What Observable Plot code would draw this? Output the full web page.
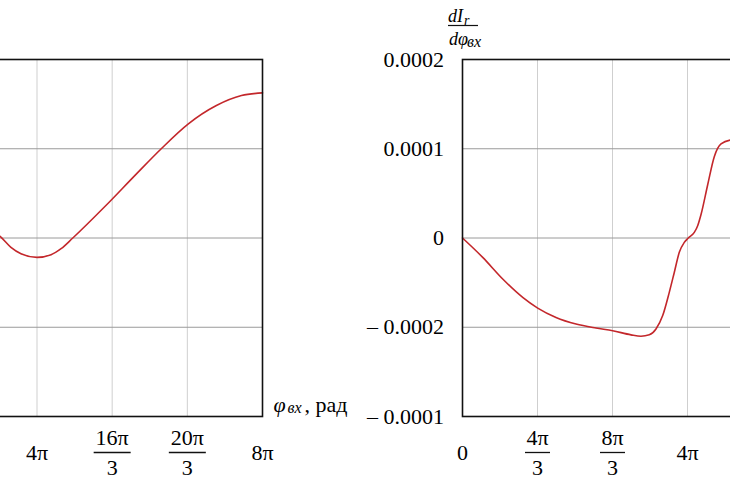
<!DOCTYPE html>
<html><head><meta charset="utf-8">
<script src="https://cdn.jsdelivr.net/npm/d3@7"></script>
<script src="https://cdn.jsdelivr.net/npm/@observablehq/plot@0.6"></script>
<style>
html,body{margin:0;padding:0;background:#fff;}
#wrap{position:relative;width:730px;height:486px;overflow:hidden;background:#fff;}
</style></head><body><div id="wrap"></div>
<script>
// x values are in units of π
const xGridValues = [0, 4/3, 8/3, 4, 16/3, 20/3, 8];
const leftTickValues = [4, 16/3, 20/3, 8];
const leftTickNum = ["4π", "16π", "20π", "8π"];
const leftTickDen = ["", "3", "3", ""];
const rightTickValues = [0, 4/3, 8/3, 4];
const rightTickNum = ["0", "4π", "8π", "4π"];
const rightTickDen = ["", "3", "3", ""];

// left chart (its y axis lies outside the view; grid units)
const leftGridY = [-1, 0, 1];
const leftX = [3.30, 3.36, 3.538, 3.716, 4.0, 4.249, 4.427, 4.635, 5.2, 5.76, 6.204, 6.679, 7.182, 7.627, 8.0];
const leftY = [0.045, 0.01, -0.105, -0.176, -0.217, -0.187, -0.12, 0, 0.35, 0.716, 1.0, 1.276, 1.484, 1.596, 1.626];

// right chart: dI_r / dφ_вх
const rightX = [0, 0.359, 0.715, 1.070, 1.337, 1.662, 2.018, 2.373, 2.670, 2.996, 3.173, 3.321, 3.440, 3.559, 3.676, 3.765, 3.854, 3.943, 4.014, 4.121, 4.181, 4.244, 4.36, 4.476, 4.596, 4.774, 5.0];
const rightY = [0, -0.0000217, -0.0000459, -0.0000665, -0.0000785, -0.000089, -0.0000964, -0.0001009, -0.0001039, -0.0001085, -0.00011, -0.0001085, -0.0001019, -0.0000869, -0.0000609, -0.0000386, -0.0000161, -0.0000049, 0, 0.0000063, 0.0000138, 0.0000272, 0.00006, 0.0000911, 0.0001054, 0.0001099, 0.000111];
const rightGridY = [-0.0001, 0, 0.0001];
const rightYTicks = [-0.0002, -0.0001, 0, 0.0001, 0.0002];
const rightYTickLabels = ["\u2013 0.0001", "\u2013 0.0002", "0", "0.0001", "0.0002"];

const FONT = "Liberation Serif";
const RED = "#c3272b";

const barSymbol = {draw(ctx, size) { const r = Math.sqrt(size / Math.PI); ctx.moveTo(-r, 0); ctx.lineTo(r, 0); }};
const T = {fontFamily: FONT, lineAnchor: "middle"};

function tickMarks(values, nums, dens) {
  const ticks = values.map((v, i) => ({v, num: nums[i], den: dens[i]}));
  const fracTicks = ticks.filter(d => d.den !== "");
  const plainTicks = ticks.filter(d => d.den === "");
  const wide = fracTicks.filter(d => d.num.length > 2);
  const narrow = fracTicks.filter(d => d.num.length <= 2);
  return [
    Plot.text(plainTicks, {...T, x: "v", text: "num", frameAnchor: "bottom", dy: 36, fontSize: 22}),
    Plot.text(fracTicks, {...T, x: "v", text: "num", frameAnchor: "bottom", dy: 21, fontSize: 22}),
    Plot.text(fracTicks, {...T, x: "v", text: "den", frameAnchor: "bottom", dy: 51, fontSize: 22}),
    Plot.dot(wide, {x: "v", frameAnchor: "bottom", dy: 36, r: 18.5, symbol: barSymbol, stroke: "#111", strokeWidth: 1.3, fill: "none"}),
    Plot.dot(narrow, {x: "v", frameAnchor: "bottom", dy: 36, r: 12.5, symbol: barSymbol, stroke: "#111", strokeWidth: 1.3, fill: "none"})
  ];
}

const leftData = leftX.map((x, i) => ({x, y: leftY[i]}));
const rightData = rightX.map((x, i) => ({x, y: rightY[i]}));

const left = Plot.plot({
  width: 581, height: 486,
  marginLeft: 20, marginRight: 110, marginTop: 59, marginBottom: 70,
  x: {domain: [0, 8], axis: null},
  y: {domain: [-2, 2], axis: null},
  style: {position: "absolute", left: "-209px", top: "0px", background: "transparent", overflow: "visible"},
  marks: [
    Plot.ruleX(xGridValues, {stroke: "#cfcfcf", strokeWidth: 1}),
    Plot.ruleY(leftGridY, {stroke: "#9a9a9a", strokeWidth: 1}),
    Plot.line(leftData, {x: "x", y: "y", stroke: RED, strokeWidth: 1.6, curve: "monotone-x"}),
    Plot.frame({stroke: "#111", strokeWidth: 1.6}),
    ...tickMarks(leftTickValues, leftTickNum, leftTickDen),
    Plot.text(["φ"], {...T, frameAnchor: "bottom-right", dx: 11, dy: -12, textAnchor: "start", fontStyle: "italic", fontSize: 22}),
    Plot.text(["вх"], {...T, frameAnchor: "bottom-right", dx: 25, dy: -9, textAnchor: "start", fontStyle: "italic", fontSize: 16}),
    Plot.text([", рад"], {...T, frameAnchor: "bottom-right", dx: 42, dy: -12, textAnchor: "start", fontSize: 22})
  ]
});

const right = Plot.plot({
  width: 570, height: 486,
  marginLeft: 100, marginRight: 20, marginTop: 59, marginBottom: 70,
  x: {domain: [0, 8], axis: null},
  y: {domain: [-0.0002, 0.0002]},
  style: {position: "absolute", left: "361.5px", top: "0px", background: "transparent", overflow: "visible"},
  marks: [
    Plot.ruleX(xGridValues, {stroke: "#cfcfcf", strokeWidth: 1}),
    Plot.ruleY(rightGridY, {stroke: "#9a9a9a", strokeWidth: 1}),
    Plot.line(rightData, {x: "x", y: "y", stroke: RED, strokeWidth: 1.6, curve: "monotone-x"}),
    Plot.frame({stroke: "#111", strokeWidth: 1.6}),
    Plot.axisY({ticks: rightYTicks, tickFormat: d => rightYTickLabels[rightYTicks.indexOf(d)], tickSize: 0, tickPadding: 18.5, fontSize: 22, fontFamily: FONT, label: null}),
    ...tickMarks(rightTickValues, rightTickNum, rightTickDen),
    Plot.text(["dI"], {...T, frameAnchor: "top-left", dx: -14.5, dy: -43, textAnchor: "start", fontStyle: "italic", fontSize: 18}),
    Plot.text(["r"], {...T, frameAnchor: "top-left", dx: 1.5, dy: -39, textAnchor: "start", fontStyle: "italic", fontSize: 14}),
    Plot.dot([0], {frameAnchor: "top-left", dx: 0.5, dy: -34, r: 15, symbol: barSymbol, stroke: "#111", strokeWidth: 1.2, fill: "none"}),
    Plot.text(["dφ"], {...T, frameAnchor: "top-left", dx: -13.5, dy: -20, textAnchor: "start", fontStyle: "italic", fontSize: 18}),
    Plot.text(["вх"], {...T, frameAnchor: "top-left", dx: 4.5, dy: -18, textAnchor: "start", fontStyle: "italic", fontSize: 16})
  ]
});

const wrap = document.getElementById("wrap");
wrap.appendChild(left);
wrap.appendChild(right);
</script></body></html>
